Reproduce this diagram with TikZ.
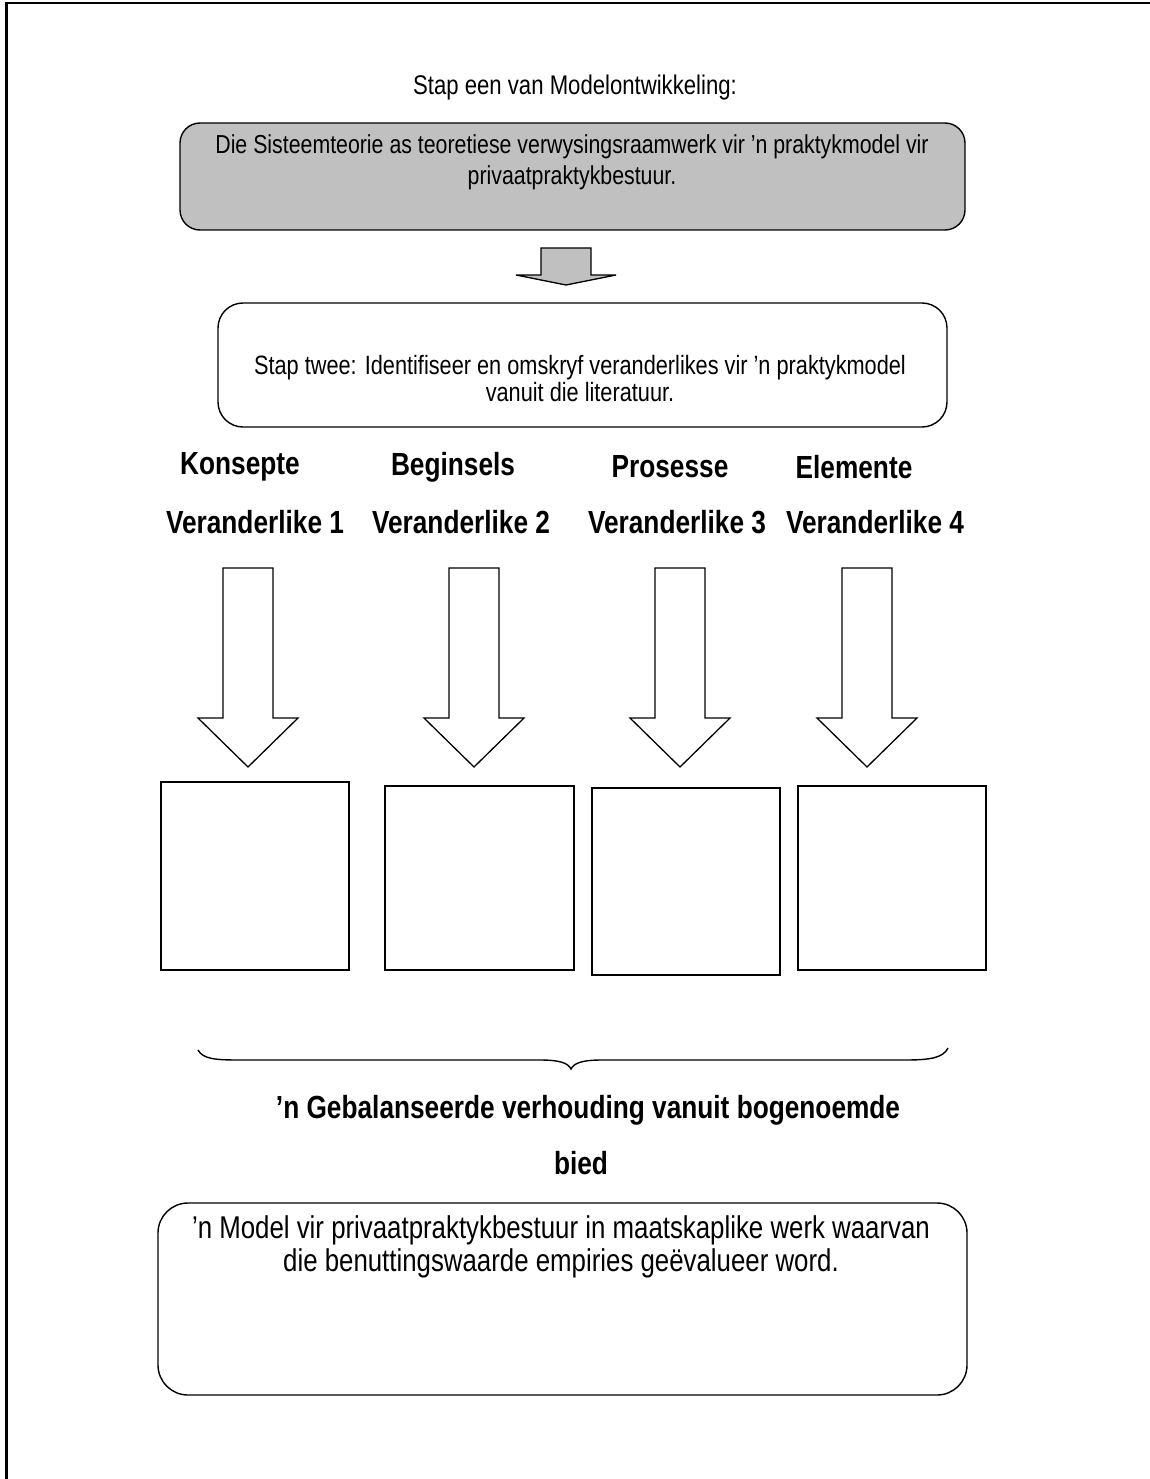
\documentclass[tikz,border=0pt]{standalone}
\usepackage{fontspec}
\setmainfont{Liberation Sans}[FakeStretch=0.82]
\definecolor{blokgrys}{RGB}{192,192,192}

% groot wit blokpyl: middel, bo, begin van kop, punt
\newcommand{\blokpyl}[4]{%
  \draw[pyl] (#1-25,#2) -- (#1+25,#2) -- (#1+25,#3) -- (#1+50,#3)
    -- (#1,#4) -- (#1-50,#3) -- (#1-25,#3) -- cycle;}

\begin{document}
\begin{tikzpicture}[x=1pt, y=-1pt,
    pyl/.style={draw, line width=1.3pt, fill=white, line join=miter},
    blok/.style={draw, line width=1.4pt, rounded corners=20pt, inner sep=0pt},
    vak/.style={draw, line width=1.5pt, inner sep=0pt},
    gewoon/.style={inner sep=0pt, align=center},
    vet/.style={inner sep=0pt, font=\fontsize{32}{38}\selectfont\bfseries}]
  \useasboundingbox (0,0) rectangle (1150,1479);
  % raam
  \draw[line width=3pt] (6,1479) -- (6,3);
  \draw[line width=2pt] (4.5,3) -- (1150,3);

  \node[gewoon, font=\fontsize{27}{32}\selectfont] (titel) at (575,88) {Stap een van Modelontwikkeling:};

  % stap een
  \node[blok, fill=blokgrys, minimum width=785pt, minimum height=107pt] (stap1) at (572.5,176.5) {};
  \node[gewoon, font=\fontsize{26}{31}\selectfont] (stap1teks) at (572,162)
    {Die Sisteemteorie as teoretiese verwysingsraamwerk vir ’n praktykmodel vir\\privaatpraktykbestuur.};
  \draw[line width=1.3pt, fill=blokgrys, line join=miter] (541,248) -- (591,248) -- (591,275)
    -- (616,275) -- (566,285) -- (516,275) -- (541,275) -- cycle;

  % stap twee
  \node[blok, rounded corners=25pt, minimum width=729pt, minimum height=124pt] (stap2) at (582.5,365) {};
  \node[gewoon, font=\fontsize{26.5}{27.5}\selectfont] (stap2teks) at (580,378.5)
    {Stap twee: Identifiseer en omskryf veranderlikes vir ’n praktykmodel\\vanuit die literatuur.};

  % veranderlikes
  \node[vet] (konsepte) at (240,467) {Konsepte};
  \node[vet] (beginsels) at (453,467) {Beginsels};
  \node[vet] (prosesse) at (670,467) {Prosesse};
  \node[vet] (elemente) at (854,467) {Elemente};
  \node[vet] (var1) at (255,522) {Veranderlike 1};
  \node[vet] (var2) at (461,522) {Veranderlike 2};
  \node[vet] (var3) at (677,522) {Veranderlike 3};
  \node[vet] (var4) at (875,522) {Veranderlike 4};

  \blokpyl{248}{568}{718}{767}
  \blokpyl{474}{568}{718}{767}
  \blokpyl{680}{568}{718}{767}
  \blokpyl{867}{568}{718}{767}

  \node[vak, minimum width=188pt, minimum height=188pt] (vak1) at (255,876) {};
  \node[vak, minimum width=189pt, minimum height=184pt] (vak2) at (479.5,878) {};
  \node[vak, minimum width=188pt, minimum height=187pt] (vak3) at (686,881.5) {};
  \node[vak, minimum width=188pt, minimum height=184pt] (vak4) at (892,878) {};

  % hakie
  \draw[line width=1.4pt] (198,1050) .. controls (203,1059) and (215,1060) .. (240,1060)
    -- (540,1060) .. controls (560,1060) and (568,1063) .. (571,1069)
    .. controls (574,1063) and (582,1060) .. (602,1060) -- (905,1060)
    .. controls (930,1060) and (943,1058) .. (948,1048);

  \node[vet] (balans) at (588,1110) {’n Gebalanseerde verhouding vanuit bogenoemde};
  \node[vet] (bied) at (581,1163) {bied};

  % model
  \node[blok, rounded corners=30pt, minimum width=809pt, minimum height=192pt] (model) at (562.5,1299) {};
  \node[gewoon, font=\fontsize{31.5}{33}\selectfont] (modelteks) at (561,1247)
    {’n Model vir privaatpraktykbestuur in maatskaplike werk waarvan\\die benuttingswaarde empiries geëvalueer word.};
\end{tikzpicture}
\end{document}
